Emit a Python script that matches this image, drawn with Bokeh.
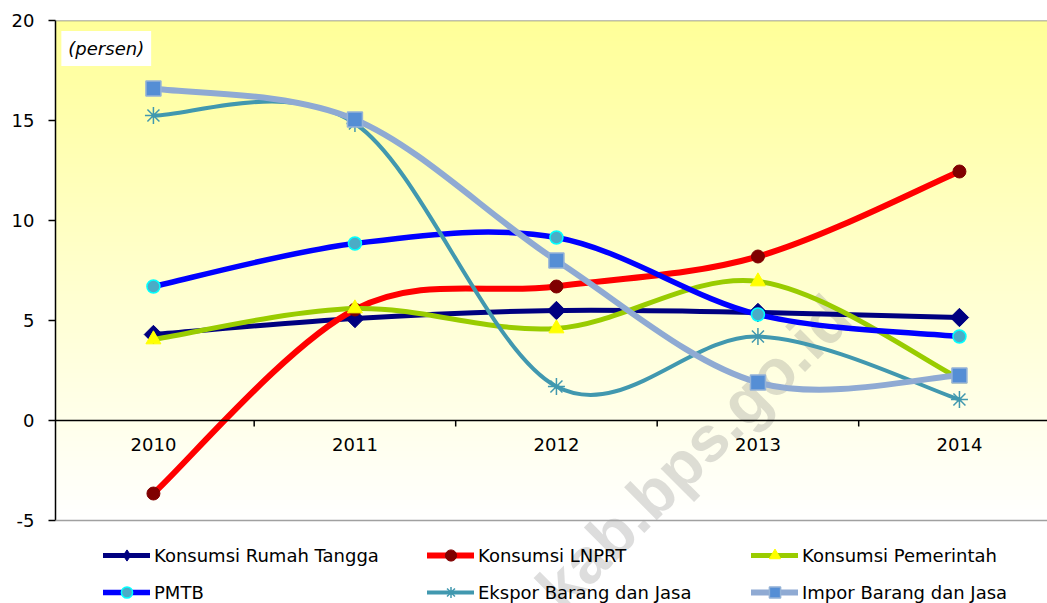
import numpy as np
from bokeh.plotting import figure
from bokeh.models import Range1d, Label, Span, Legend, LegendItem, FixedTicker
from bokeh.core.properties import value
from bokeh.embed import file_html
from bokeh.resources import INLINE

# ---------------- data ----------------
years = ["2010", "2011", "2012", "2013", "2014"]
rumah_tangga = [4.3, 5.1, 5.5, 5.4, 5.15]
lnprt = [-3.65, 5.55, 6.7, 8.2, 12.45]
pemerintah = [4.05, 5.6, 4.6, 6.95, 2.1]
pmtb = [6.7, 8.85, 9.15, 5.3, 4.2]
ekspor = [15.25, 14.85, 1.7, 4.2, 1.05]
impor = [16.6, 15.05, 8.0, 1.9, 2.25]
y_ticks = [-5, 0, 5, 10, 15, 20]

series_names = ["Konsumsi Rumah Tangga", "Konsumsi LNPRT", "Konsumsi Pemerintah",
                "PMTB", "Ekspor Barang dan Jasa", "Impor Barang dan Jasa"]
series_values = [rumah_tangga, lnprt, pemerintah, pmtb, ekspor, impor]

# styles
styles = [
    dict(line="#000080", lw=5, marker="square", angle=np.pi / 4, size=13, fill="#000080", mline="#000080", mlw=1, leg="diamond"),
    dict(line="#FF0000", lw=6, marker="circle", angle=0, size=13, fill="#800000", mline="#800000", mlw=1, leg=None),
    dict(line="#99CC00", lw=5, marker="triangle", angle=0, size=15, fill="#FFFF00", mline="#FFFF00", mlw=1, leg=None),
    dict(line="#0000FF", lw=5.5, marker="circle", angle=0, size=13, fill="#4BACC6", mline="#00FFFF", mlw=1.5, leg=None),
    dict(line="#4198AF", lw=4, marker="asterisk", angle=0, size=17, fill="#4198AF", mline="#4198AF", mlw=1.5, leg=None),
    dict(line="#8FAAD3", lw=6, marker="square", angle=0, size=15, fill="#558ED5", mline="#95B3D7", mlw=1.5, leg=None),
]

FONT = "DejaVu Sans"
FS = "18px"

x_pos = list(range(len(years)))

p = figure(width=1047, height=603, output_backend="svg", toolbar_location=None,
           x_range=Range1d(-0.486, 4.437), y_range=Range1d(-9.15, 20),
           x_axis_location=None,
           min_border_left=55, min_border_right=0, min_border_top=20, min_border_bottom=0)
p.outline_line_color = None
p.xgrid.visible = False
p.ygrid.visible = False
p.background_fill_color = "white"
p.border_fill_color = "white"

# gradient background (plot area from -5 to 20)
n = 256
img = np.empty((n, 1), dtype=np.uint32)
view = img.view(dtype=np.uint8).reshape((n, 1, 4))
t = np.linspace(0, 1, n)
view[:, 0, 0] = 255
view[:, 0, 1] = 255
view[:, 0, 2] = (255 - t * 102).astype(np.uint8)
view[:, 0, 3] = 255
p.image_rgba(image=[img], x=-0.6, y=-5, dw=5.2, dh=25, level="image")

# watermark
wm = Label(x=2.68, y=-1.6, text="kab.bps.go.id", angle=np.pi / 4,
           text_font="Liberation Sans", text_font_style="bold", text_font_size="64px",
           text_color="#808080", text_alpha=0.27, text_align="center", text_baseline="middle",
           level="underlay")
p.add_layout(wm)

# y axis
ax = p.yaxis[0]
ax.ticker = FixedTicker(ticks=y_ticks)
ax.bounds = (-5, 20)
ax.major_label_overrides = {t_: str(t_) for t_ in y_ticks}
ax.major_label_text_font = FONT
ax.major_label_text_font_size = FS
ax.major_label_text_color = "black"
ax.axis_line_color = "black"
ax.axis_line_width = 1.5
ax.major_tick_line_color = "black"
ax.major_tick_line_width = 1.5
ax.major_tick_out = 7
ax.major_tick_in = 0
ax.minor_tick_out = 0
ax.minor_tick_in = 0
ax.major_label_standoff = 14

# frame top / bottom lines and zero line
p.add_layout(Span(location=20, dimension="width", line_color="#808080", line_width=1.5))
p.add_layout(Span(location=-5, dimension="width", line_color="#A0A0A0", line_width=1.5))
p.add_layout(Span(location=0, dimension="width", line_color="black", line_width=1.5))

# category tick marks at boundaries on the zero line
bounds = [i + 0.5 for i in x_pos]
p.segment(x0=bounds, y0=[0] * len(bounds), x1=bounds, y1=[-0.3] * len(bounds),
          line_color="black", line_width=1.5)

# category labels
p.text(x=x_pos, y=[0] * len(x_pos), text=years, y_offset=24,
       text_align="center", text_baseline="middle",
       text_font=value(FONT), text_font_size=FS, text_color="black")


def bezier_segments(vals):
    xs = np.asarray(x_pos, dtype=float)
    ys = np.asarray(vals, dtype=float)
    px = np.concatenate([[xs[0]], xs, [xs[-1]]])
    py = np.concatenate([[ys[0]], ys, [ys[-1]]])
    i = np.arange(len(ys) - 1)
    x0, y0 = px[i + 1], py[i + 1]
    x1, y1 = px[i + 2], py[i + 2]
    cx0 = x0 + (px[i + 2] - px[i]) / 6
    cy0 = y0 + (py[i + 2] - py[i]) / 6
    cx1 = x1 - (px[i + 3] - px[i + 1]) / 6
    cy1 = y1 - (py[i + 3] - py[i + 1]) / 6
    return dict(x0=x0, y0=y0, x1=x1, y1=y1, cx0=cx0, cy0=cy0, cx1=cx1, cy1=cy1)


items = []
for name, vals, st in zip(series_names, series_values, styles):
    seg = bezier_segments(vals)
    p.bezier(**seg, line_color=st["line"], line_width=st["lw"], line_cap="round")
    # single-point line: draws nothing in the plot, gives the legend its line
    leg_line = p.line(x=x_pos[:1], y=vals[:1], line_color=st["line"], line_width=st["lw"],
                      line_cap="round")
    leg_renderers = [leg_line]
    if st["leg"]:
        leg_mark = p.scatter(x=x_pos[:1], y=vals[:1], marker=st["leg"], size=8,
                             fill_color=st["fill"], line_color=st["mline"], line_width=st["mlw"])
        leg_renderers.append(leg_mark)
    sc = p.scatter(x=x_pos, y=vals, marker=st["marker"], size=st["size"], angle=st["angle"],
                   fill_color=st["fill"], line_color=st["mline"], line_width=st["mlw"])
    if not st["leg"]:
        leg_renderers.append(sc)
    items.append(LegendItem(label=name, renderers=leg_renderers))

legend = Legend(items=items, orientation="horizontal", ncols=3, location=(48, -3),
                glyph_width=47, glyph_height=28, label_standoff=4, label_width=264,
                label_height=28, spacing=9, padding=0, margin=0,
                border_line_color=None, background_fill_alpha=0,
                label_text_font=FONT, label_text_font_size=FS, label_text_color="black")
p.add_layout(legend)

# unit label
p.add_layout(Label(x=-0.457, y=18.6, text="(persen)", text_font=FONT, text_font_style="italic",
                   text_font_size=FS, text_color="black", text_baseline="middle",
                   background_fill_color="white", padding=7))

open("out.html", "w").write(file_html(p, INLINE))
